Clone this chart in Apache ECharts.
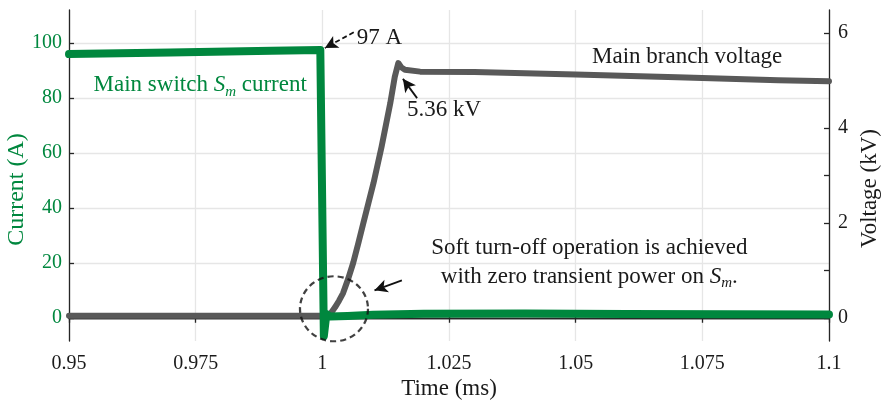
<!DOCTYPE html>
<html><head><meta charset="utf-8">
<script src="https://cdn.jsdelivr.net/npm/echarts@6/dist/echarts.min.js"></script>
<style>html,body{margin:0;padding:0;background:#fff}#c{width:882px;height:400px}</style>
</head><body><div id="c"></div>
<script>
// ---- data ----
const timeCurrent = [0.95, 0.97, 0.99, 0.9996, 1.0003, 1.0008, 1.0015, 1.005, 1.01, 1.02, 1.04, 1.06, 1.08, 1.1];
const currentA    = [95.9, 96.5, 97.1, 97.4, -6.5, 1.5, 0.6, 0.8, 1.2, 1.6, 1.7, 1.5, 1.4, 1.3];
const timeVoltage = [0.95, 0.98, 1.0, 1.0015, 1.0025, 1.0033, 1.0041, 1.0051, 1.0061, 1.0071, 1.0081, 1.0091, 1.0101, 1.0117, 1.0134, 1.0143, 1.0150, 1.0156, 1.0163, 1.0193, 1.03, 1.05, 1.07, 1.09, 1.1];
const voltageKV   = [0.04, 0.04, 0.04, 0.07, 0.22, 0.36, 0.52, 0.82, 1.16, 1.57, 2.00, 2.42, 2.84, 3.61, 4.52, 5.08, 5.37, 5.28, 5.23, 5.19, 5.18, 5.13, 5.07, 5.01, 4.99];
const xTickValues = [0.95, 0.975, 1, 1.025, 1.05, 1.075, 1.1];
const currentTickValues = [0, 20, 40, 60, 80, 100];
const voltageLabelValues = [0, 2, 4, 6];
const voltageTickValues = [0, 1, 2, 3, 4, 5, 6];
const circleMark = [[1.0023, 3.4]];

const GREEN = '#00873e', GRAY = '#595959', AX = '#262626', FONT = 'Liberation Serif';
const chart = echarts.init(document.getElementById('c'), null, {renderer: 'canvas'});

const axisLine = {lineStyle: {color: AX, width: 1.3}};
const tickIn = {inside: true, length: 5, lineStyle: {color: AX, width: 1.3}};
const fmtX = v => String(+(+v).toFixed(3));

function txt(t, I, formatter, align, color) {
  const c = color || '#1a1a1a';
  return {
    coord: [t, I], symbolSize: 0,
    label: {show: true, position: 'inside', formatter: formatter, align: align || 'center', verticalAlign: 'middle',
      color: c, fontSize: 23, fontFamily: FONT, lineHeight: 29,
      rich: {
        i: {fontStyle: 'italic', fontSize: 23, fontFamily: FONT, color: c, lineHeight: 29},
        sub: {fontStyle: 'italic', fontSize: 15, fontFamily: FONT, color: c, verticalAlign: 'bottom', lineHeight: 27}
      }}
  };
}

const option = {
  animation: false,
  backgroundColor: '#fff',
  grid: {left: 69, right: 53, top: 10, bottom: 59, containLabel: false, outerBoundsMode: 'none'},
  xAxis: [
    {type: 'value', min: 0.95, max: 1.1, interval: 0.025, position: 'bottom',
     axisLine, axisTick: tickIn,
     axisLabel: {color: '#1a1a1a', fontSize: 20, fontFamily: FONT, margin: 13, formatter: fmtX, showMinLabel: true, showMaxLabel: true},
     splitLine: {show: true, lineStyle: {color: '#e6e6e6', width: 1.3}},
     name: 'Time (ms)', nameLocation: 'middle', nameGap: 36, nameMoveOverlap: false,
     nameTextStyle: {color: '#1a1a1a', fontSize: 23, fontFamily: FONT}},
    {type: 'value', min: 0.95, max: 1.1, interval: 0.025, position: 'top',
     axisLine, axisTick: tickIn, axisLabel: {show: false}, splitLine: {show: false}}
  ],
  yAxis: [
    {type: 'value', min: -8.3, max: 111.9, position: 'left',
     axisLine: {show: true, lineStyle: {color: AX, width: 1.3}},
     axisTick: Object.assign({show: true, customValues: currentTickValues}, tickIn),
     axisLabel: {color: GREEN, fontSize: 20, fontFamily: FONT, margin: 7, customValues: currentTickValues},
     splitLine: {show: true, lineStyle: {color: '#e6e6e6', width: 1.3}},
     name: 'Current (A)', nameLocation: 'middle', nameGap: 40, nameRotate: 90, nameMoveOverlap: false,
     nameTextStyle: {color: GREEN, fontSize: 24, fontFamily: FONT, padding: [0, 28, 0, 0]}},
    {type: 'value', min: -0.49, max: 6.49, position: 'right',
     axisLine: {show: true, lineStyle: {color: AX, width: 1.3}},
     axisTick: Object.assign({show: true, customValues: voltageTickValues}, tickIn),
     axisLabel: {color: '#1a1a1a', fontSize: 20, fontFamily: FONT, margin: 9, customValues: voltageLabelValues},
     splitLine: {show: false},
     name: 'Voltage (kV)', nameLocation: 'middle', nameGap: 29, nameRotate: 90, nameMoveOverlap: false,
     nameTextStyle: {color: '#1a1a1a', fontSize: 23, fontFamily: FONT, padding: [0, 26, 0, 0]}}
  ],
  series: [
    {type: 'line', name: 'Main branch voltage', xAxisIndex: 0, yAxisIndex: 1,
     data: timeVoltage.map((t, i) => [t, voltageKV[i]]),
     showSymbol: false, lineStyle: {color: GRAY, width: 6, join: 'round', cap: 'round'}, z: 2},
    {type: 'line', name: 'Main switch current', xAxisIndex: 0, yAxisIndex: 0,
     data: timeCurrent.map((t, i) => [t, currentA[i]]),
     showSymbol: false, lineStyle: {color: GREEN, width: 8, join: 'round', cap: 'round'}, z: 3,
     markPoint: {
       silent: true,
       data: [
         txt(0.9759, 84.5, 'Main switch {i|S}{sub|m} current', 'center', GREEN),
         txt(1.0068, 101.7, '97 A', 'left'),
         txt(1.0167, 75.6, '5.36 kV', 'left'),
         txt(1.0720, 94.8, 'Main branch voltage', 'center'),
         txt(1.0527, 20.4, 'Soft turn-off operation is achieved\nwith zero transient power on {i|S}{sub|m}.', 'center')
       ]
     },
     markLine: {
       silent: true, symbol: ['none', 'arrow'], symbolSize: [10, 13],
       label: {show: false},
       data: [
         [{coord: [1.0062, 103.8], lineStyle: {type: [5, 3], color: '#111', width: 1.8}}, {coord: [1.0005, 98.1]}],
         [{coord: [1.0187, 79.9], lineStyle: {type: 'solid', color: '#111', width: 1.8}}, {coord: [1.0159, 86.9]}],
         [{coord: [1.0157, 13.7], lineStyle: {type: 'solid', color: '#111', width: 1.8}}, {coord: [1.0103, 10.1]}]
       ]
     }},
    {type: 'scatter', name: 'zero power region', xAxisIndex: 0, yAxisIndex: 0,
     data: circleMark, symbol: 'circle', symbolSize: [68, 65], clip: false, silent: true, z: 4,
     itemStyle: {color: 'rgba(0,0,0,0)', borderColor: '#111', borderWidth: 2.2, borderType: [6, 4]}}
  ]
};
chart.setOption(option);
</script></body></html>
